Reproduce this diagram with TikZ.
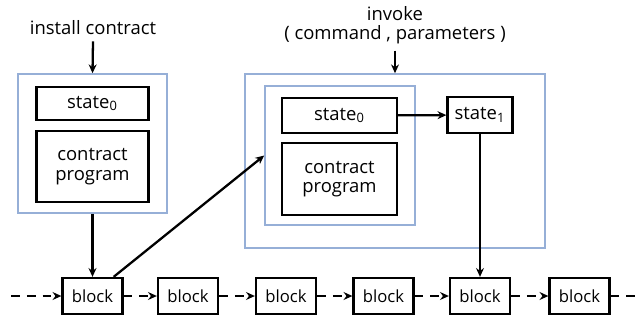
\documentclass[tikz,border=0pt]{standalone}
\usepackage{fontspec}
\setmainfont{Open Sans}
\usetikzlibrary{arrows.meta,calc}
\definecolor{frameblue}{RGB}{150,175,215}

\begin{document}
\begin{tikzpicture}[>={Stealth[length=5pt,width=4.5pt]},
  every node/.style={font=\fontsize{10.5}{11}\selectfont},
  box/.style={draw,line width=1.3pt,align=center,inner sep=0pt},
  frame/.style={draw=frameblue,line width=0.9pt,inner sep=0pt},
  blk/.style={box,minimum width=1.2cm,minimum height=0.72cm,font=\fontsize{9.5}{11}\selectfont},
  link/.style={->,line width=1.3pt},
  chain/.style={line width=1.3pt,dash pattern=on 5pt off 4pt}]
  \useasboundingbox (0,0) rectangle (12.74,6.4);

  % install contract
  \node (inst) at (1.86,5.84) {install contract};
  \node[frame,minimum width=2.98cm,minimum height=2.78cm] (lbox) at (1.85,3.53) {};
  \node[box,minimum width=2.24cm,minimum height=0.66cm] (ls0) at (1.85,4.33) {state\textsubscript{0}};
  \node[box,minimum width=2.24cm,minimum height=1.42cm] (lprog) at (1.85,3.07) {contract\\program};

  % invoke
  \node[align=center] (inv) at (7.9,5.89) {invoke\\( command , parameters )};
  \node[frame,minimum width=6cm,minimum height=3.48cm] (rbox) at (7.9,3.18) {};
  \node[frame,minimum width=3cm,minimum height=2.78cm] (ibox) at (6.8,3.29) {};
  \node[box,minimum width=2.3cm,minimum height=0.7cm] (rs0) at (6.79,4.09) {state\textsubscript{0}};
  \node[box,minimum width=2.3cm,minimum height=1.44cm] (rprog) at (6.79,2.82) {contract\\program};
  \node[box,minimum width=1.3cm,minimum height=0.72cm] (rs1) at (9.6,4.1) {state\textsubscript{1}};

  % chain of blocks
  \foreach \i/\x in {1/1.85,2/3.76,3/5.72,4/7.67,5/9.6,6/11.59}
    \node[blk] (b\i) at (\x,0.48) {block};
  \coordinate (cstart) at (0.22,0.48);
  \coordinate (cend) at (12.74,0.48);
  \draw[chain,->] (cstart) -- (b1);
  \foreach \i [evaluate=\i as \j using int(\i+1)] in {1,...,5}
    \draw[chain,->] (b\i) -- (b\j);
  \draw[chain] (b6) -- (cend);

  \draw[link] (inst.south) -- (lbox.north);
  \draw[link] (lbox.south) -- (b1.north);
  \draw[link] ($(b1.north east)+(-0.2,0)$) -- (ibox.west);
  \draw[link] (inv.south) -- (rbox.north);
  \draw[link] (rs0) -- (rs1);
  \draw[link] (rs1.south) -- (b5.north);
\end{tikzpicture}
\end{document}
